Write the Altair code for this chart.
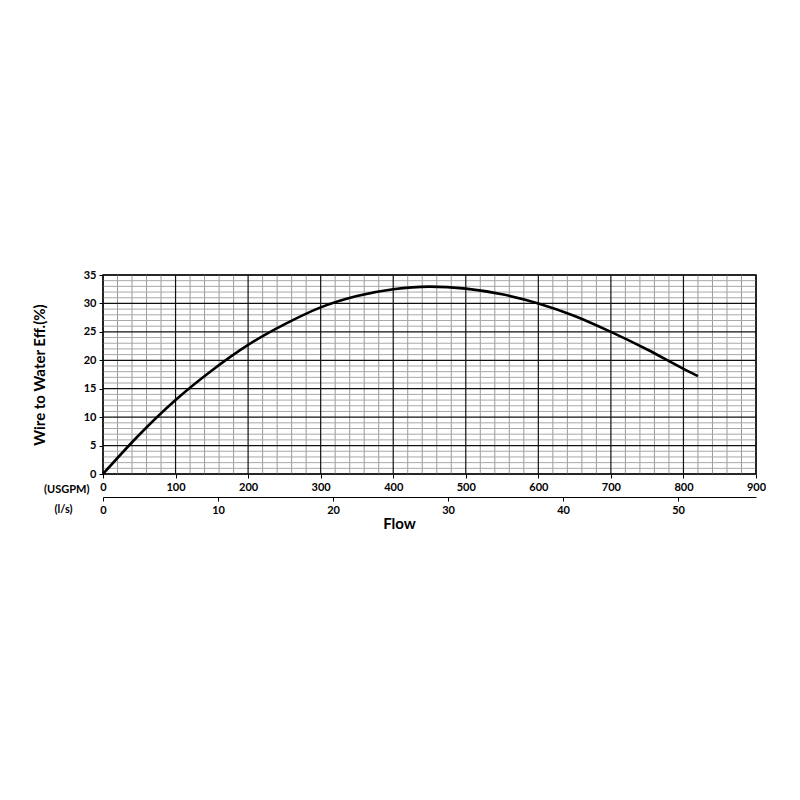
import altair as alt
import pandas as pd

# Efficiency curve (USGPM vs %)
flow_gpm = [0, 50, 100, 150, 200, 250, 300, 350, 400, 450, 500, 550, 600, 650, 700, 750, 800, 820]
eff_pct = [0, 6.9, 13, 18.2, 22.7, 26.3, 29.3, 31.3, 32.5, 32.95, 32.6, 31.6, 30, 27.8, 25, 21.9, 18.5, 17.2]

gpm_ticks = list(range(0, 901, 100))
ls_ticks = [0, 10, 20, 30, 40, 50]
y_ticks = list(range(0, 36, 5))
minor_x = [v for v in range(0, 901, 20) if v % 100 != 0]
minor_y = [v for v in range(0, 36) if v % 5 != 0]
GPM_PER_LS = 15.8503

FONT = "Lato"
xs = alt.Scale(domain=[0, 900], nice=False, zero=True)
ys = alt.Scale(domain=[0, 35], nice=False, zero=True)

x_axis = alt.Axis(
    values=gpm_ticks, grid=False, domain=False, tickColor="black", tickSize=4, labelFlush=False,
    labelFont=FONT, labelFontWeight="bold", labelFontSize=11, labelColor="black", labelPadding=3,
    title="(USGPM)", titleFont=FONT, titleFontWeight="bold", titleFontSize=11, titleColor="black",
    titleAngle=0, titleAlign="right", titleBaseline="middle", titleX=-14, titleY=15)
y_axis = alt.Axis(
    values=y_ticks, grid=False, domain=False, tickColor="black", tickSize=4, labelFlush=False,
    labelFont=FONT, labelFontWeight="bold", labelFontSize=11, labelColor="black", labelPadding=3,
    title="Wire to Water Eff.(%)", titleFont=FONT, titleFontWeight="bold", titleFontSize=15,
    titleColor="black", titlePadding=36)

curve_df = pd.DataFrame({"gpm": flow_gpm, "eff": eff_pct})

minor_v = alt.Chart(pd.DataFrame({"gx": minor_x})).mark_rule(color="#9a9a9a", strokeWidth=1).encode(
    x=alt.X("gx:Q", scale=xs, axis=x_axis))
minor_h = alt.Chart(pd.DataFrame({"gy": minor_y})).mark_rule(color="#a8a8a8", strokeWidth=1).encode(
    y=alt.Y("gy:Q", scale=ys, axis=y_axis))
major_v = alt.Chart(pd.DataFrame({"gx": gpm_ticks})).mark_rule(color="#111111", strokeWidth=1.2).encode(
    x=alt.X("gx:Q", scale=xs, axis=x_axis))
major_h = alt.Chart(pd.DataFrame({"gy": y_ticks})).mark_rule(color="#111111", strokeWidth=1.2).encode(
    y=alt.Y("gy:Q", scale=ys, axis=y_axis))

curve = alt.Chart(curve_df).mark_line(color="black", strokeWidth=2.6, interpolate="monotone").encode(
    x=alt.X("gpm:Q", scale=xs, axis=x_axis),
    y=alt.Y("eff:Q", scale=ys, axis=y_axis),
)

main = alt.layer(minor_v, minor_h, major_v, major_h, curve)

ls_df = pd.DataFrame({"ls": ls_ticks})
secondary = alt.Chart(ls_df).mark_point(opacity=0).encode(
    x=alt.X("ls:Q", scale=alt.Scale(domain=[0, 900 / GPM_PER_LS], nice=False, zero=True), axis=alt.Axis(
        orient="bottom", offset=23, values=ls_ticks, grid=False, domain=True, domainColor="black",
        domainWidth=1.2, tickColor="black", tickSize=4, labelFlush=False,
        labelFont=FONT, labelFontWeight="bold", labelFontSize=11, labelColor="black", labelPadding=3,
        title="(l/s)", titleFont=FONT, titleFontWeight="bold", titleFontSize=11, titleColor="black",
        titleAngle=0, titleAlign="right", titleBaseline="middle", titleX=-31, titleY=12)),
    y=alt.value(0),
)

chart = alt.layer(main, secondary).resolve_scale(x="independent").properties(
    width=653, height=199,
    title=alt.TitleParams("Flow", orient="bottom", anchor="middle", dx=-30, offset=2,
                          font=FONT, fontSize=15, fontWeight="bold", color="black"),
    padding={"left": 24, "top": 261, "right": 0, "bottom": 0},
).configure_view(stroke="black", strokeWidth=1.5)

chart.save("out.html", embed_options={"renderer": "svg", "actions": False})
